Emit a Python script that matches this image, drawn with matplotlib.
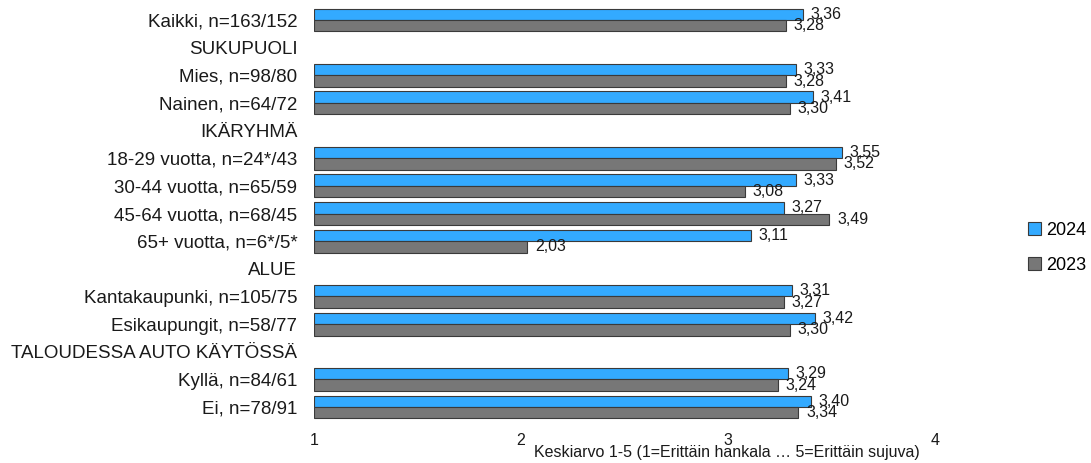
import numpy as np
import matplotlib
matplotlib.use("Agg")
import matplotlib.pyplot as plt
from matplotlib.patches import Patch

plt.rcParams["font.family"] = ["Liberation Sans", "DejaVu Sans"]

CATEGORIES = [
    "Kaikki, n=163/152",
    "SUKUPUOLI",
    "Mies, n=98/80",
    "Nainen, n=64/72",
    "IKÄRYHMÄ",
    "18-29 vuotta, n=24*/43",
    "30-44 vuotta, n=65/59",
    "45-64 vuotta, n=68/45",
    "65+ vuotta, n=6*/5*",
    "ALUE",
    "Kantakaupunki, n=105/75",
    "Esikaupungit, n=58/77",
    "TALOUDESSA AUTO KÄYTÖSSÄ",
    "Kyllä, n=84/61",
    "Ei, n=78/91",
]
VALUES_2024 = [3.36, None, 3.33, 3.41, None, 3.55, 3.33, 3.27, 3.11, None,
               3.31, 3.42, None, 3.29, 3.40]
VALUES_2023 = [3.28, None, 3.28, 3.30, None, 3.52, 3.08, 3.49, 2.03, None,
               3.27, 3.30, None, 3.24, 3.34]
SERIES = [("2024", VALUES_2024, "#33aaff"), ("2023", VALUES_2023, "#777777")]
X_TICKS = [1, 2, 3, 4]
X_LABEL = "Keskiarvo 1-5 (1=Erittäin hankala \u2026 5=Erittäin sujuva)"

BAR_H = 0.415
EDGE = "#3a3a3a"

fig = plt.figure(figsize=(10.91, 4.63), dpi=100)
ax = fig.add_axes([0.2878, 0.0911, 0.857 - 0.2878, 0.9866 - 0.0911])

y = np.arange(len(CATEGORIES))
for i, (name, vals, color) in enumerate(SERIES):
    offset = (i - 0.5) * BAR_H
    for yi, v in zip(y, vals):
        if v is None:
            continue
        ax.barh(yi + offset, v - 1, left=1, height=BAR_H, color=color,
                edgecolor=EDGE, linewidth=0.8)
        ax.annotate(f"{v:.2f}".replace(".", ","), (v, yi + offset),
                    xytext=(5.5, 0), textcoords="offset points",
                    ha="left", va="center", fontsize=11.5, color="#1a1a1a")

ax.set_xlim(1, 4)
ax.set_ylim(len(CATEGORIES) - 0.5, -0.5)
ax.set_yticks(y)
ax.set_yticklabels(CATEGORIES, fontsize=13.5, color="#1a1a1a")
ax.set_xticks(X_TICKS)
ax.set_xticklabels([str(t) for t in X_TICKS], fontsize=11.5, color="#1a1a1a")
ax.tick_params(axis="y", length=0, pad=12)
ax.tick_params(axis="x", length=0, pad=9)
for s in ax.spines.values():
    s.set_visible(False)

fig.text(727 / 1091, 1 - 452 / 463, X_LABEL, ha="center", va="center",
         fontsize=11.5, color="#1a1a1a")

handles = [Patch(facecolor=c, edgecolor=EDGE, linewidth=0.8, label=n)
           for n, _, c in SERIES]
fig.legend(handles=handles, loc="center left",
           bbox_to_anchor=(1012 / 1091, 1 - 248 / 463), frameon=False,
           fontsize=13, handlelength=0.7, handleheight=0.7,
           handletextpad=0.3, labelspacing=1.0)

fig.savefig("out.png", dpi=100)
